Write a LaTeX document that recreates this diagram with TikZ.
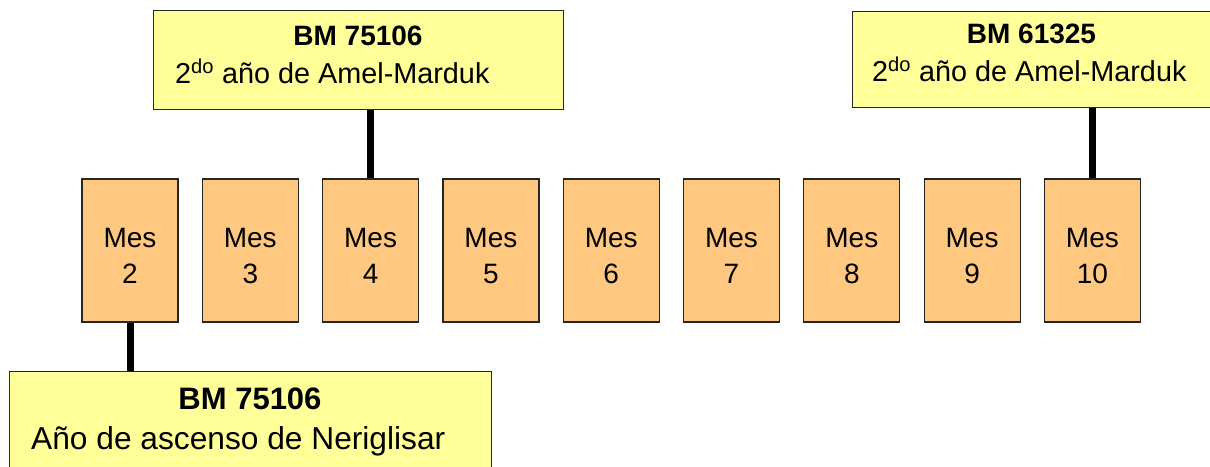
\documentclass[tikz,border=0pt]{standalone}
\usepackage{fontspec}
\setmainfont{Liberation Sans}
\definecolor{yel}{HTML}{FFFF99}
\definecolor{ora}{HTML}{FFC880}
\begin{document}
\begin{tikzpicture}[x=1pt,y=-1pt]
\tikzset{
  yelbox/.style={draw=black!85, line width=1.2pt, fill=yel, inner sep=0pt, anchor=north west},
  mesbox/.style={draw=black!85, line width=1.2pt, fill=ora, minimum width=96pt, minimum height=143pt, inner sep=0pt},
  mestext/.style={inner sep=0pt, align=center, font=\fontsize{28}{36}\selectfont},
  toptitle/.style={inner sep=0pt, anchor=base, font=\fontsize{28}{34}\selectfont\bfseries},
  topline/.style={inner sep=0pt, anchor=base west, font=\fontsize{28.8}{34}\selectfont},
  bottitle/.style={inner sep=0pt, anchor=base, font=\fontsize{31}{38}\selectfont\bfseries},
  botline/.style={inner sep=0pt, anchor=base west, font=\fontsize{31.7}{38}\selectfont},
  conn/.style={line width=7pt}
}
\useasboundingbox (0,0) rectangle (1210,466);
% month boxes
\foreach \i in {2,...,10} {
  \node[mesbox] (m\i) at ({130+(\i-2)*120.3},250.5) {};
  \node[mestext, yshift=-5.5pt] (l\i) at (m\i.center) {Mes\\\i};
}
% top boxes
\node[yelbox, minimum width=410pt, minimum height=99pt] (t1) at (153,10) {};
\node[toptitle] (t1a) at (358,45) {BM 75106};
\node[topline] (t1b) at (175,83) {2\textsuperscript{do} año de Amel-Marduk};
\node[yelbox, minimum width=359pt, minimum height=96pt] (t2) at (852,11) {};
\node[toptitle] (t2a) at (1031.5,43) {BM 61325};
\node[topline] (t2b) at (872,81) {2\textsuperscript{do} año de Amel-Marduk};
% bottom box
\node[yelbox, minimum width=482pt, minimum height=100pt] (b1) at (9,371) {};
\node[bottitle] (b1a) at (250,409) {BM 75106};
\node[botline] (b1b) at (31,449) {Año de ascenso de Neriglisar};
% connectors
\draw[conn] (m4.north) -- (m4.north |- t1.south);
\draw[conn] (m10.north) -- (m10.north |- t2.south);
\draw[conn] (m2.south) -- (m2.south |- b1.north);
\end{tikzpicture}
\end{document}
